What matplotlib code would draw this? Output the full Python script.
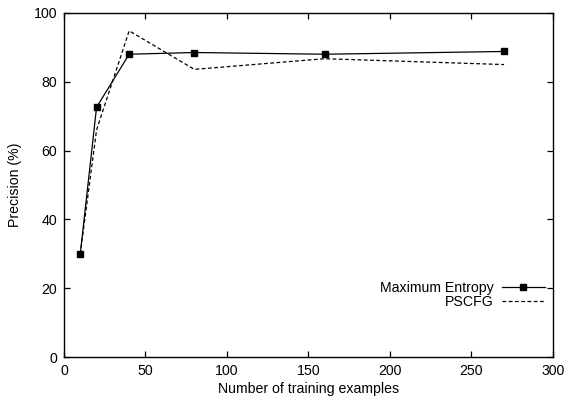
import matplotlib
matplotlib.use("Agg")
import matplotlib.pyplot as plt

plt.rcParams['font.family'] = ['Liberation Sans', 'DejaVu Sans']
plt.rcParams['font.size'] = 10.2

train_sizes = [10, 20, 40, 80, 160, 270]
maxent = [30.0, 72.6, 88.0, 88.5, 88.0, 88.8]
pscfg = [30.0, 66.0, 94.8, 83.6, 86.7, 85.0]

fig = plt.figure(figsize=(5.66, 4.04), dpi=100)
ax = fig.add_axes([0.113, 0.116, 0.864, 0.852])

ax.plot(train_sizes, maxent, color='black', lw=0.9, marker='s', markersize=5,
        label='Maximum Entropy')
ax.plot(train_sizes, pscfg, color='black', lw=0.9, linestyle=(0, (3, 2)),
        label='PSCFG')

ax.set_xlim(0, 300)
ax.set_ylim(0, 100)
ax.set_xticks([0, 50, 100, 150, 200, 250, 300])
ax.set_yticks([0, 20, 40, 60, 80, 100])
ax.tick_params(direction='in', top=True, right=True, length=4, width=0.9, pad=5)
for s in ax.spines.values():
    s.set_linewidth(1.0)

ax.set_xlabel('Number of training examples', labelpad=3)
ax.set_ylabel('Precision (%)', labelpad=8)

ax.legend(loc='center right', bbox_to_anchor=(0.983, 0.18), frameon=False,
          markerfirst=False, handlelength=3.0, labelspacing=0.0,
          borderaxespad=0, borderpad=0, handletextpad=0.6)

fig.savefig('out.png', dpi=100)
